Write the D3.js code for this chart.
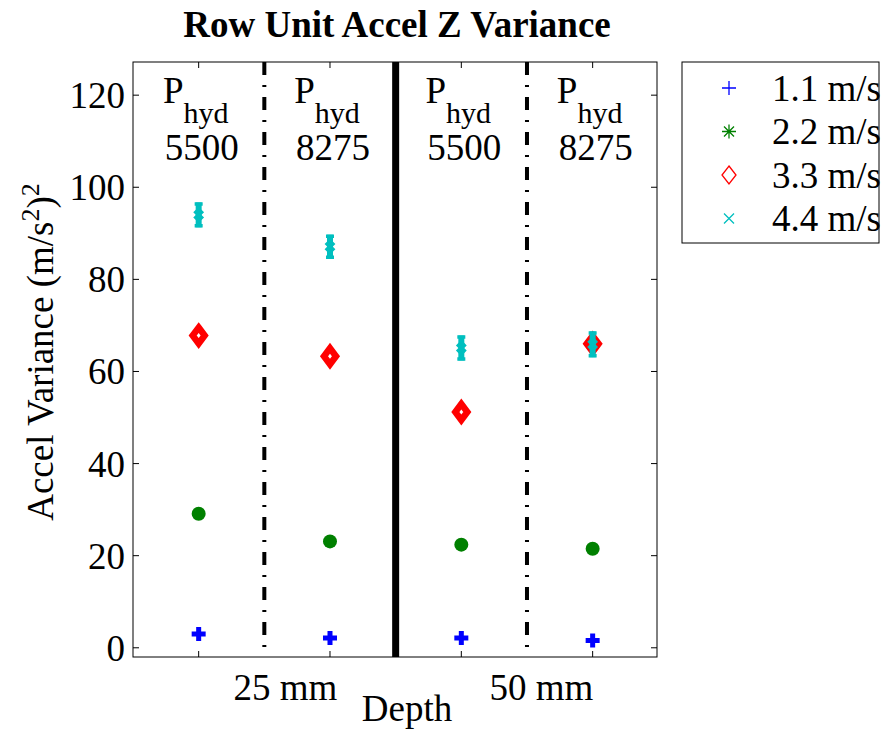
<!DOCTYPE html>
<html>
<head>
<meta charset="utf-8">
<script src="https://cdn.jsdelivr.net/npm/d3@7"></script>
<style>
  body { margin: 0; background: #fff; }
  text { font-family: "Liberation Serif", "DejaVu Serif"; }
</style>
</head>
<body>
<div id="chart"></div>
<script>
'use strict';

// Data
var xPositions = [1, 2, 3, 4];
var pressures = ["5500", "8275", "5500", "8275"];
var speeds = ["1.1 m/s", "2.2 m/s", "3.3 m/s", "4.4 m/s"];
var var11 = [3.0, 2.1, 2.1, 1.6];
var var22 = [29.1, 23.1, 22.4, 21.5];
var var33 = [67.8, 63.3, 51.2, 66.0];
var var44 = [94.0, 87.1, 65.1, 65.9];
var err44 = [2.7, 2.6, 2.7, 2.8];
var depthLabels = ["25 mm", "50 mm"];
var depthTickPos = [1.66, 3.61];
var yTicks = [0, 20, 40, 60, 80, 100, 120];
var dashDividers = [1.5, 3.5];
var solidDividers = [2.5];

var App = (function() {
function run() {
  var owidth = 881, oheight = 729;
  var margin = {top: 62, left: 133};
  var cwidth = 524, cheight = 595;
  var fs = 37;

  var svg = d3.select("#chart").append("svg")
    .attr("width", owidth)
    .attr("height", oheight);

  var chart = svg.append("g")
    .attr("transform", "translate(" + margin.left + "," + margin.top + ")");

  var x = d3.scaleLinear().domain([0.5, 4.49]).range([0, cwidth]);
  var y = d3.scaleLinear().domain([-2.0, 127.2]).range([cheight, 0]);

  // axes box with inward ticks
  chart.append("rect")
    .attr("width", cwidth).attr("height", cheight)
    .attr("fill", "none").attr("stroke", "#000").attr("stroke-width", 1);

  var tick = 6;
  yTicks.forEach(function(t) {
    chart.append("line").attr("x1", 0).attr("x2", tick)
      .attr("y1", y(t)).attr("y2", y(t)).attr("stroke", "#000");
    chart.append("line").attr("x1", cwidth).attr("x2", cwidth - tick)
      .attr("y1", y(t)).attr("y2", y(t)).attr("stroke", "#000");
    chart.append("text")
      .attr("x", -8).attr("y", y(t))
      .attr("dy", "0.35em")
      .attr("text-anchor", "end")
      .attr("font-size", fs)
      .text(t);
  });
  xPositions.forEach(function(p) {
    chart.append("line").attr("x1", x(p)).attr("x2", x(p))
      .attr("y1", cheight).attr("y2", cheight - tick).attr("stroke", "#000");
    chart.append("line").attr("x1", x(p)).attr("x2", x(p))
      .attr("y1", 0).attr("y2", tick).attr("stroke", "#000");
  });

  // dividers
  dashDividers.forEach(function(d) {
    chart.append("line")
      .attr("x1", x(d)).attr("x2", x(d))
      .attr("y1", 0).attr("y2", cheight)
      .attr("stroke", "#000").attr("stroke-width", 4)
      .attr("stroke-dasharray", "13,10,2,10");
  });
  solidDividers.forEach(function(d) {
    chart.append("line")
      .attr("x1", x(d)).attr("x2", x(d))
      .attr("y1", 0).attr("y2", cheight)
      .attr("stroke", "#000").attr("stroke-width", 7);
  });

  // P_hyd labels
  xPositions.forEach(function(p, i) {
    var t = chart.append("text")
      .attr("x", x(p) - 3).attr("y", 41)
      .attr("text-anchor", "middle")
      .attr("font-size", fs);
    t.append("tspan").text("P");
    t.append("tspan").attr("font-size", 30).attr("dy", 20).text("hyd");
    chart.append("text")
      .attr("x", x(p) + 3).attr("y", 98)
      .attr("text-anchor", "middle")
      .attr("font-size", fs)
      .text(pressures[i]);
  });

  // series 1.1 m/s: thick plus
  chart.selectAll(".p11").data(var11).enter().append("path")
    .attr("d", function(d, i) {
      var cx = x(xPositions[i]), cy = y(d), s = 7;
      return "M" + (cx - s) + "," + cy + "H" + (cx + s) + "M" + cx + "," + (cy - s) + "V" + (cy + s);
    })
    .attr("stroke", "#0000ff").attr("stroke-width", 5).attr("fill", "none");

  // series 2.2 m/s: filled circle
  chart.selectAll(".p22").data(var22).enter().append("circle")
    .attr("cx", function(d, i) { return x(xPositions[i]); })
    .attr("cy", function(d) { return y(d); })
    .attr("r", 7)
    .attr("fill", "#008000");

  // series 3.3 m/s: thick diamond
  chart.selectAll(".p33").data(var33).enter().append("path")
    .attr("d", function(d, i) {
      var cx = x(xPositions[i]), cy = y(d), w = 6, h = 8;
      return "M" + cx + "," + (cy - h) + "L" + (cx + w) + "," + cy + "L" + cx + "," + (cy + h) + "L" + (cx - w) + "," + cy + "Z";
    })
    .attr("stroke", "#ff0000").attr("stroke-width", 6.5).attr("fill", "#fff");

  // series 4.4 m/s: x with thick error bar
  var g44 = chart.selectAll(".p44").data(var44).enter().append("g");
  g44.append("path")
    .attr("d", function(d, i) {
      var cx = x(xPositions[i]), y0 = y(d - err44[i]), y1 = y(d + err44[i]);
      return "M" + cx + "," + y0 + "V" + y1;
    })
    .attr("stroke", "#00bfbf").attr("stroke-width", 6).attr("fill", "none");
  g44.append("path")
    .attr("d", function(d, i) {
      var cx = x(xPositions[i]), y0 = y(d - err44[i]), y1 = y(d + err44[i]), c = 4;
      return "M" + (cx - c) + "," + (y0 - 1.5) + "H" + (cx + c) +
        "M" + (cx - c) + "," + (y1 + 1.5) + "H" + (cx + c);
    })
    .attr("stroke", "#00bfbf").attr("stroke-width", 3.5).attr("fill", "none");
  g44.append("path")
    .attr("d", function(d, i) {
      var cx = x(xPositions[i]), cy = y(d), s = 4;
      return "M" + (cx - s) + "," + (cy - s) + "L" + (cx + s) + "," + (cy + s) +
        "M" + (cx - s) + "," + (cy + s) + "L" + (cx + s) + "," + (cy - s);
    })
    .attr("stroke", "#00bfbf").attr("stroke-width", 4).attr("fill", "none");

  // depth labels
  depthLabels.forEach(function(l, i) {
    chart.append("text")
      .attr("x", x(depthTickPos[i])).attr("y", cheight + 43)
      .attr("text-anchor", "middle")
      .attr("font-size", fs)
      .text(l);
  });
  svg.append("text")
    .attr("x", 407).attr("y", 721)
    .attr("text-anchor", "middle")
    .attr("font-size", fs)
    .text("Depth");

  // y label
  var yl = svg.append("text")
    .attr("transform", "translate(53," + 352 + ") rotate(-90)")
    .attr("text-anchor", "middle")
    .attr("font-size", fs);
  yl.append("tspan").text("Accel Variance (m/s");
  yl.append("tspan").attr("font-size", 26).attr("dy", -14).text("2");
  yl.append("tspan").attr("dy", 14).text(")");
  yl.append("tspan").attr("font-size", 26).attr("dy", -14).text("2");

  // title
  svg.append("text")
    .attr("x", 397).attr("y", 37)
    .attr("text-anchor", "middle")
    .attr("font-size", 37)
    .attr("font-weight", "bold")
    .text("Row Unit Accel Z Variance");

  // legend
  var legend = svg.append("g").attr("transform", "translate(682,62)");
  legend.append("rect")
    .attr("width", 197).attr("height", 181)
    .attr("fill", "#fff").attr("stroke", "#000").attr("stroke-width", 1);
  var colors = ["#0000ff", "#008000", "#ff0000", "#00bfbf"];
  speeds.forEach(function(s, i) {
    var cy = 26 + i * 43.5, cx = 47;
    var m;
    if (i === 0) {
      m = "M" + (cx - 7) + "," + cy + "H" + (cx + 7) + "M" + cx + "," + (cy - 7) + "V" + (cy + 7);
    } else if (i === 1) {
      m = "M" + (cx - 7) + "," + cy + "H" + (cx + 7) + "M" + cx + "," + (cy - 7) + "V" + (cy + 7) +
        "M" + (cx - 5) + "," + (cy - 5) + "L" + (cx + 5) + "," + (cy + 5) +
        "M" + (cx - 5) + "," + (cy + 5) + "L" + (cx + 5) + "," + (cy - 5);
    } else if (i === 2) {
      m = "M" + cx + "," + (cy - 9) + "L" + (cx + 7) + "," + cy + "L" + cx + "," + (cy + 9) + "L" + (cx - 7) + "," + cy + "Z";
    } else {
      m = "M" + (cx - 5) + "," + (cy - 5) + "L" + (cx + 5) + "," + (cy + 5) +
        "M" + (cx - 5) + "," + (cy + 5) + "L" + (cx + 5) + "," + (cy - 5);
    }
    legend.append("path").attr("d", m)
      .attr("stroke", colors[i]).attr("stroke-width", 1.3).attr("fill", "none");
    legend.append("text")
      .attr("x", 90).attr("y", cy)
      .attr("dy", "0.35em")
      .attr("font-size", fs)
      .text(s);
  });
}
return { run: run };
}());
document.addEventListener('DOMContentLoaded', App.run);
</script>
</body>
</html>
